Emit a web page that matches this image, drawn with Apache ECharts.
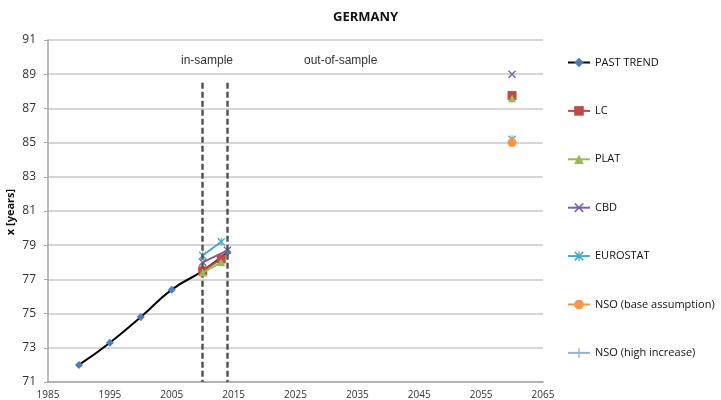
<!DOCTYPE html>
<html>
<head>
<meta charset="utf-8">
<script src="https://cdn.jsdelivr.net/npm/echarts@6/dist/echarts.min.js"></script>
<style>
html, body { margin: 0; padding: 0; background: #fff; }
#main { width: 721px; height: 400px; }
</style>
</head>
<body>
<div id="main"></div>
<script>
// past observed life expectancy
var pastYears = [1990, 1995, 2000, 2005, 2010, 2014];
var pastVals = [72.0, 73.3, 74.8, 76.4, 77.5, 78.6];

// model fits (in-sample 2010-2013) and projection for 2060
var fitYears = [2010, 2013];
var projYear = 2060;
var lcVals = [77.5, 78.2, 87.75];
var platVals = [77.4, 78.0, 87.6];
var cbdVals = [78.0, 78.7, 89.0];
var cbdYears = [2010, 2014];
var eurostatVals = [78.4, 79.2, 85.2];
var nsoBase = 85.0;
var nsoHigh = 85.05;

var cutYears = [2010, 2014];
var yTicks = [71, 91, 2];
var xTicks = [1985, 2065, 10];

var xMark = 'path://M0,1.2L1.2,0L5,3.8L8.8,0L10,1.2L6.2,5L10,8.8L8.8,10L5,6.2L1.2,10L0,8.8L3.8,5Z';
var plusMark = 'path://M4.3,0H5.7V4.3H10V5.7H5.7V10H4.3V5.7H0V4.3H4.3Z';
var starMark = 'path://M0,1.2L1.2,0L5,3.8L8.8,0L10,1.2L6.2,5L10,8.8L8.8,10L5,6.2L1.2,10L0,8.8L3.8,5ZM4.4,0H5.6V10H4.4Z';

function modelData(years, vals) {
    return [[years[0], vals[0]], [years[1], vals[1]], [2040, '-'], [projYear, vals[2]]];
}

var chart = echarts.init(document.getElementById('main'));
var option = {
    animation: false,
    textStyle: { fontFamily: 'Liberation Sans' },
    title: {
        text: 'GERMANY',
        left: 328,
        top: 6,
        textStyle: { fontSize: 13, fontWeight: 'bold', color: '#111', fontFamily: 'Open Sans' }
    },
    grid: { left: 48, right: 178, top: 40, bottom: 18, outerBoundsMode: 'none' },
    legend: {
        orient: 'vertical',
        left: 562,
        top: 52,
        itemWidth: 22,
        itemHeight: 12,
        itemGap: 37.4,
        textStyle: { fontSize: 11, color: '#111', fontFamily: 'Open Sans' },
        data: ['PAST TREND', 'LC', 'PLAT', 'CBD', 'EUROSTAT', 'NSO (base assumption)', 'NSO (high increase)']
    },
    xAxis: {
        type: 'value',
        min: xTicks[0], max: xTicks[1], interval: xTicks[2],
        axisLine: { lineStyle: { color: '#a6a6a6', width: 1.5 } },
        axisTick: { show: false },
        splitLine: { show: false },
        axisLabel: { color: '#333', fontSize: 10, margin: 8, fontFamily: 'Open Sans',
            formatter: function (v) { return String(v); } }
    },
    yAxis: {
        type: 'value',
        min: yTicks[0], max: yTicks[1], interval: yTicks[2],
        axisLine: { show: true, lineStyle: { color: '#a6a6a6', width: 1.5 } },
        axisTick: { show: true, length: 4, lineStyle: { color: '#a6a6a6' } },
        splitLine: { lineStyle: { color: '#c8c8c8', width: 1.5 } },
        axisLabel: { color: '#333', fontSize: 12, margin: 12, fontFamily: 'Open Sans' }
    },
    graphic: [
        { type: 'text', left: 181, top: 55, style: { text: 'in-sample', fontSize: 12, fill: '#333', fontFamily: 'Liberation Sans' } },
        { type: 'text', left: 304, top: 55, style: { text: 'out-of-sample', fontSize: 12, fill: '#333', fontFamily: 'Liberation Sans' } },
        { type: 'text', x: 11, y: 212, rotation: Math.PI / 2,
          style: { text: 'x [years]', fontSize: 11, fontWeight: 'bold', fill: '#111', fontFamily: 'Open Sans',
                   align: 'center', verticalAlign: 'middle' } }
    ],
    series: [
        {
            name: 'PAST TREND',
            type: 'line',
            smooth: true,
            symbol: 'diamond',
            symbolSize: 8,
            lineStyle: { color: '#000', width: 2 },
            itemStyle: { color: '#4a7ebb' },
            data: pastYears.map(function (y, i) { return [y, pastVals[i]]; }),
            markLine: {
                silent: true,
                symbol: 'none',
                label: { show: false },
                lineStyle: { color: '#555', width: 2.5, type: [6, 3] },
                data: cutYears.map(function (y) { return [{ coord: [y, 88.5] }, { coord: [y, 71] }]; })
            },
            z: 3
        },
        {
            name: 'LC', type: 'line', symbol: 'rect', symbolSize: 9,
            lineStyle: { color: '#be4b48', width: 2 }, itemStyle: { color: '#be4b48' },
            data: modelData(fitYears, lcVals), z: 4
        },
        {
            name: 'PLAT', type: 'line', symbol: 'triangle', symbolSize: 8,
            lineStyle: { color: '#98b954', width: 2 }, itemStyle: { color: '#98b954' },
            data: modelData(fitYears, platVals), z: 5
        },
        {
            name: 'CBD', type: 'line', symbol: xMark, symbolSize: 8,
            lineStyle: { color: '#7d60a0', width: 2 }, itemStyle: { color: '#7d60a0' },
            data: modelData(cbdYears, cbdVals), z: 4
        },
        {
            name: 'EUROSTAT', type: 'line', symbol: starMark, symbolSize: 8,
            lineStyle: { color: '#46aac5', width: 2 }, itemStyle: { color: '#46aac5' },
            data: modelData(fitYears, eurostatVals), z: 4
        },
        {
            name: 'NSO (base assumption)', type: 'line', symbol: 'circle', symbolSize: 9,
            lineStyle: { color: '#f79646', width: 1 }, itemStyle: { color: '#f79646' },
            data: [[projYear, nsoBase]], z: 4
        },
        {
            name: 'NSO (high increase)', type: 'line', symbol: plusMark, symbolSize: 8,
            lineStyle: { color: '#95b3d7', width: 1.5 }, itemStyle: { color: '#95b3d7' },
            data: [[projYear, nsoHigh]], z: 2
        }
    ]
};
chart.setOption(option);
</script>
</body>
</html>
